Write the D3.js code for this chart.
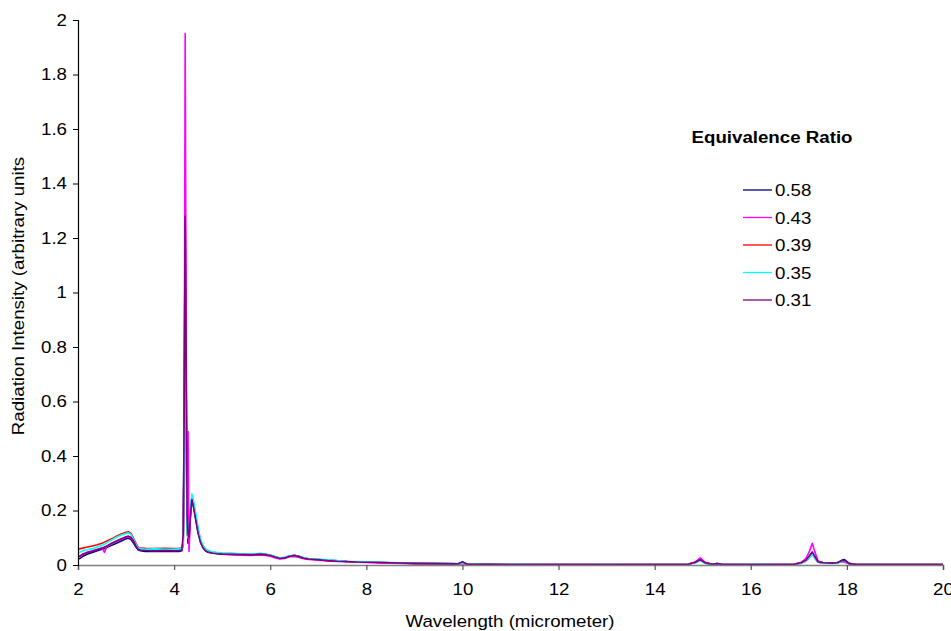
<!DOCTYPE html>
<html>
<head>
<meta charset="utf-8">
<script src="https://cdn.jsdelivr.net/npm/d3@7"></script>
<style>
  html, body { margin: 0; padding: 0; background: #fff; }
  svg { display: block; font-family: "Liberation Sans", Arial, sans-serif; }
</style>
</head>
<body>
<svg id="chart" width="951" height="631"></svg>
<script>
// Wavelength grid (micrometer), shared by all spectra
const wavelength = [
  2.00, 2.05, 2.10, 2.15, 2.20, 2.30, 2.40, 2.50, 2.55, 2.60,
  2.70, 2.80, 2.90, 3.00, 3.05, 3.10, 3.15, 3.20, 3.25, 3.30,
  3.40, 3.60, 3.80, 4.00, 4.10, 4.16, 4.19, 4.21, 4.23, 4.25,
  4.27, 4.29, 4.31, 4.34, 4.37, 4.40, 4.45, 4.50, 4.55, 4.60,
  4.65, 4.70, 4.80, 4.90, 5.00, 5.20, 5.40, 5.60, 5.80, 5.90,
  6.00, 6.10, 6.20, 6.30, 6.40, 6.50, 6.60, 6.70, 6.80, 7.00,
  7.20, 7.40, 7.60, 7.80, 8.00, 8.50, 9.00, 9.50, 9.90, 10.00,
  10.10, 10.50, 11.0, 12.0, 13.0, 14.0, 14.70, 14.85, 14.95, 15.05,
  15.20, 15.30, 15.40, 15.60, 16.0, 16.5, 16.90, 17.05, 17.15, 17.22,
  17.28, 17.33, 17.40, 17.50, 17.70, 17.80, 17.90, 17.95, 18.05, 18.20,
  18.5, 19.0, 19.5, 20.0
];

// Radiation intensity (arbitrary units) for each equivalence ratio
const phi058 = [
  0.022, 0.025, 0.032, 0.036, 0.040, 0.046, 0.052, 0.058, 0.060, 0.064,
  0.072, 0.080, 0.088, 0.096, 0.098, 0.094, 0.082, 0.068, 0.056, 0.052,
  0.050, 0.051, 0.050, 0.051, 0.050, 0.052, 0.090, 0.60, 1.30, 0.70,
  0.15, 0.08, 0.09, 0.18, 0.24, 0.22, 0.17, 0.12, 0.085, 0.065,
  0.054, 0.048, 0.044, 0.042, 0.041, 0.040, 0.039, 0.038, 0.041, 0.039,
  0.036, 0.030, 0.025, 0.027, 0.033, 0.036, 0.032, 0.026, 0.023, 0.020,
  0.017, 0.015, 0.013, 0.012, 0.011, 0.008, 0.006, 0.005, 0.004, 0.010,
  0.003, 0.003, 0.002, 0.002, 0.002, 0.002, 0.003, 0.010, 0.020, 0.008,
  0.003, 0.005, 0.003, 0.002, 0.002, 0.002, 0.003, 0.008, 0.018, 0.032,
  0.045, 0.030, 0.012, 0.008, 0.007, 0.008, 0.018, 0.020, 0.006, 0.002,
  0.002, 0.002, 0.002, 0.002
];
const phi043 = [
  0.032, 0.030, 0.040, 0.044, 0.048, 0.052, 0.058, 0.062, 0.046, 0.068,
  0.078, 0.086, 0.094, 0.102, 0.104, 0.100, 0.088, 0.074, 0.060, 0.056,
  0.055, 0.054, 0.055, 0.054, 0.055, 0.056, 0.070, 0.50, 1.95, 0.85,
  0.20, 0.49, 0.05, 0.17, 0.245, 0.225, 0.175, 0.125, 0.090, 0.068,
  0.056, 0.050, 0.045, 0.043, 0.040, 0.038, 0.036, 0.035, 0.037, 0.035,
  0.032, 0.027, 0.022, 0.024, 0.030, 0.031, 0.028, 0.023, 0.020, 0.018,
  0.015, 0.013, 0.012, 0.010, 0.009, 0.007, 0.005, 0.004, 0.004, 0.003,
  0.003, 0.002, 0.002, 0.002, 0.001, 0.002, 0.003, 0.012, 0.026, 0.010,
  0.003, 0.005, 0.002, 0.002, 0.002, 0.002, 0.003, 0.010, 0.024, 0.050,
  0.080, 0.050, 0.015, 0.009, 0.008, 0.008, 0.012, 0.010, 0.004, 0.002,
  0.002, 0.002, 0.002, 0.002
];
const phi039 = [
  0.058, 0.060, 0.062, 0.064, 0.066, 0.070, 0.074, 0.080, 0.084, 0.088,
  0.096, 0.106, 0.114, 0.120, 0.122, 0.116, 0.100, 0.082, 0.066, 0.062,
  0.061, 0.060, 0.061, 0.060, 0.061, 0.062, 0.085, 0.45, 1.00, 0.55,
  0.12, 0.10, 0.11, 0.20, 0.25, 0.23, 0.18, 0.13, 0.090, 0.070,
  0.058, 0.052, 0.047, 0.045, 0.043, 0.042, 0.040, 0.038, 0.040, 0.038,
  0.035, 0.030, 0.025, 0.026, 0.032, 0.034, 0.031, 0.025, 0.022, 0.020,
  0.017, 0.015, 0.013, 0.012, 0.011, 0.008, 0.006, 0.005, 0.004, 0.005,
  0.003, 0.003, 0.002, 0.002, 0.002, 0.002, 0.003, 0.009, 0.018, 0.007,
  0.003, 0.004, 0.003, 0.002, 0.002, 0.002, 0.003, 0.007, 0.015, 0.028,
  0.040, 0.026, 0.010, 0.007, 0.007, 0.007, 0.014, 0.015, 0.005, 0.002,
  0.002, 0.002, 0.002, 0.002
];
const phi035 = [
  0.045, 0.048, 0.052, 0.055, 0.056, 0.060, 0.066, 0.072, 0.076, 0.082,
  0.092, 0.102, 0.110, 0.116, 0.118, 0.112, 0.096, 0.078, 0.064, 0.060,
  0.058, 0.059, 0.058, 0.058, 0.059, 0.060, 0.080, 0.40, 0.95, 0.50,
  0.12, 0.10, 0.12, 0.21, 0.26, 0.24, 0.19, 0.135, 0.095, 0.072,
  0.060, 0.054, 0.048, 0.046, 0.044, 0.043, 0.041, 0.040, 0.043, 0.040,
  0.037, 0.031, 0.026, 0.028, 0.034, 0.035, 0.032, 0.027, 0.024, 0.022,
  0.019, 0.016, 0.014, 0.013, 0.012, 0.009, 0.007, 0.006, 0.005, 0.006,
  0.004, 0.003, 0.003, 0.002, 0.002, 0.002, 0.003, 0.008, 0.016, 0.006,
  0.003, 0.004, 0.003, 0.002, 0.003, 0.002, 0.003, 0.007, 0.015, 0.027,
  0.038, 0.025, 0.010, 0.007, 0.006, 0.007, 0.013, 0.014, 0.005, 0.002,
  0.002, 0.002, 0.002, 0.002
];
const phi031 = [
  0.030, 0.034, 0.040, 0.042, 0.046, 0.050, 0.056, 0.062, 0.066, 0.070,
  0.080, 0.088, 0.096, 0.104, 0.106, 0.102, 0.090, 0.072, 0.058, 0.054,
  0.053, 0.052, 0.053, 0.052, 0.053, 0.054, 0.110, 0.55, 1.28, 0.75,
  0.18, 0.11, 0.10, 0.19, 0.24, 0.215, 0.165, 0.115, 0.082, 0.063,
  0.052, 0.047, 0.043, 0.041, 0.040, 0.039, 0.038, 0.037, 0.040, 0.038,
  0.035, 0.029, 0.024, 0.026, 0.032, 0.035, 0.031, 0.025, 0.022, 0.019,
  0.016, 0.014, 0.013, 0.011, 0.010, 0.008, 0.006, 0.005, 0.004, 0.012,
  0.003, 0.003, 0.002, 0.002, 0.002, 0.002, 0.003, 0.010, 0.020, 0.008,
  0.003, 0.005, 0.003, 0.002, 0.002, 0.002, 0.003, 0.008, 0.018, 0.034,
  0.048, 0.032, 0.012, 0.008, 0.007, 0.008, 0.016, 0.017, 0.005, 0.002,
  0.002, 0.002, 0.002, 0.002
];

const seriesNames = ["0.58", "0.43", "0.39", "0.35", "0.31"];
const seriesValues = [phi058, phi043, phi039, phi035, phi031];
const seriesColors = ["#000080", "#ff00ff", "#ff0000", "#00ffff", "#800080"];

const xTicks = [2, 4, 6, 8, 10, 12, 14, 16, 18, 20];
const yTicks = [0, 0.2, 0.4, 0.6, 0.8, 1, 1.2, 1.4, 1.6, 1.8, 2];

const FONT = "Liberation Sans, Arial, sans-serif";
const FS = 17;
const STRETCH = 1.1;   // slightly wide lettering

const svg = d3.select("#chart");
const margin = { left: 78, right: 8, top: 20, bottom: 66 };
const W = 951, H = 631;

const x = d3.scaleLinear().domain([2, 20]).range([margin.left, W - margin.right]);
const y = d3.scaleLinear().domain([0, 2]).range([H - margin.bottom, margin.top]);

// Spectra, drawn from the richest mixture to the leanest
const line = d3.line()
  .x((d, i) => x(wavelength[i]))
  .y(d => y(d));

svg.append("g")
  .selectAll("path")
  .data(seriesValues)
  .join("path")
  .attr("d", d => line(d))
  .attr("fill", "none")
  .attr("stroke", (d, i) => seriesColors[i])
  .attr("stroke-width", 1.6)
  .attr("stroke-linejoin", "round");

// Widen a text element about its own anchor point
function widen(sel) {
  sel.each(function () {
    const t = d3.select(this);
    const tx = +t.attr("x") || 0, ty = +t.attr("y") || 0;
    t.attr("x", 0).attr("y", 0)
      .attr("transform", `translate(${tx},${ty}) scale(${STRETCH},1)`);
  });
}

// X axis
const xAxis = svg.append("g")
  .attr("transform", `translate(0,${y(0)})`)
  .call(d3.axisBottom(x).tickValues(xTicks).tickFormat(d3.format("d")).tickSize(5).tickPadding(13));
xAxis.select(".domain").attr("stroke", "#808080").attr("stroke-width", 1.5);
xAxis.selectAll(".tick line").attr("stroke", "#555").attr("stroke-width", 1.2);
xAxis.selectAll("text").attr("font-size", FS).attr("fill", "#000").attr("font-family", FONT).call(widen);

// Y axis
const yAxis = svg.append("g")
  .attr("transform", `translate(${x(2)},0)`)
  .call(d3.axisLeft(y).tickValues(yTicks).tickFormat(d => d3.format("~g")(d)).tickSize(5).tickPadding(6));
yAxis.select(".domain").attr("stroke", "#000").attr("stroke-width", 1.2);
yAxis.selectAll(".tick line").attr("stroke", "#000");
yAxis.selectAll("text").attr("font-size", FS).attr("fill", "#000").attr("font-family", FONT).call(widen);

// Axis titles
svg.append("text")
  .attr("transform", `translate(510,627) scale(${STRETCH},1)`)
  .attr("text-anchor", "middle")
  .attr("font-size", FS)
  .text("Wavelength (micrometer)");

svg.append("text")
  .attr("transform", `translate(24,296) rotate(-90) scale(${STRETCH},1)`)
  .attr("text-anchor", "middle")
  .attr("font-size", FS)
  .text("Radiation Intensity (arbitrary units");

// Legend
const legend = svg.append("g");
legend.append("text")
  .attr("transform", `translate(772,143) scale(${STRETCH},1)`)
  .attr("text-anchor", "middle")
  .attr("font-size", FS)
  .attr("font-weight", "bold")
  .text("Equivalence Ratio");

const rows = legend.selectAll("g.item")
  .data(seriesNames)
  .join("g")
  .attr("class", "item")
  .attr("transform", (d, i) => `translate(743,${190 + i * 27.5})`);
rows.append("line")
  .attr("x1", 0).attr("x2", 29)
  .attr("y1", 0).attr("y2", 0)
  .attr("stroke", (d, i) => seriesColors[i])
  .attr("stroke-width", 1.3);
rows.append("text")
  .attr("transform", `translate(32,6) scale(${STRETCH},1)`)
  .attr("font-size", FS)
  .text(d => d);
</script>
</body>
</html>
